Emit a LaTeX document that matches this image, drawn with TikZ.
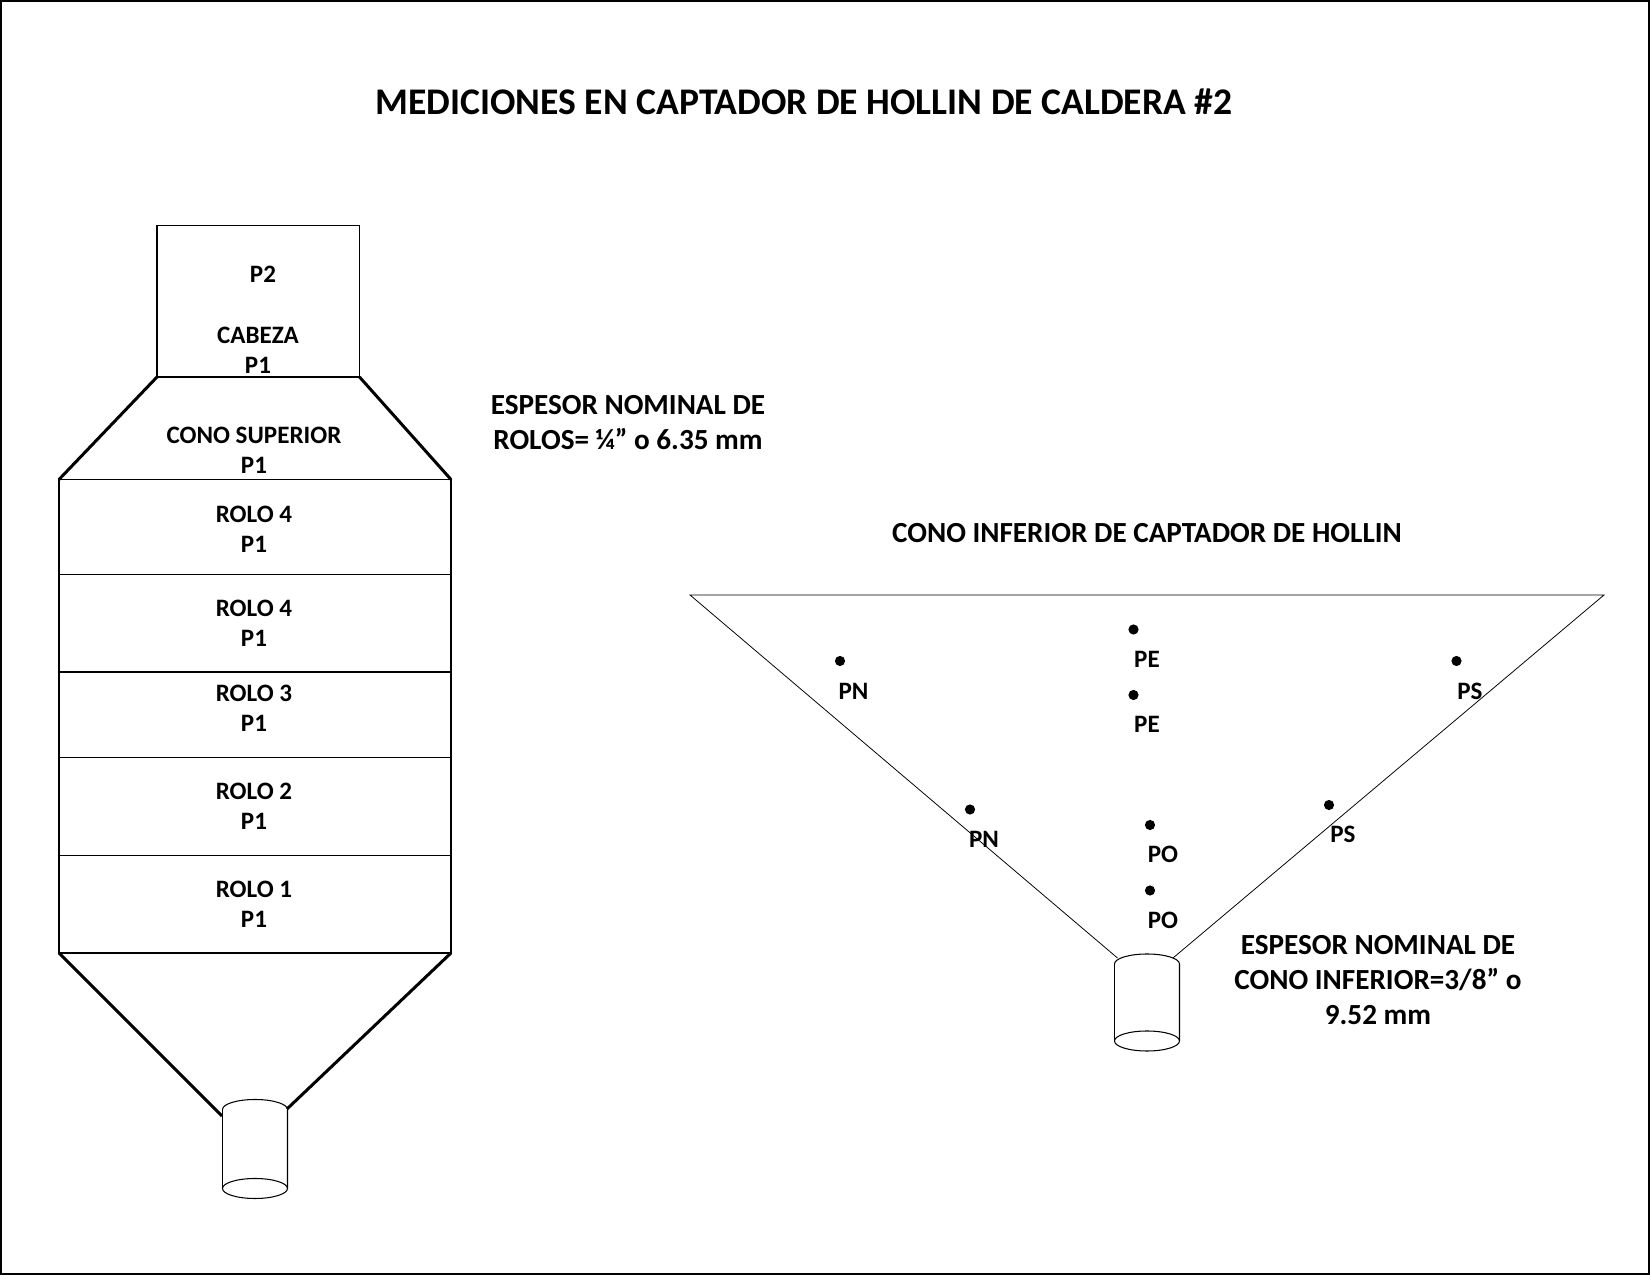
\documentclass[tikz,border=0pt]{standalone}
\usepackage{fontspec}
\setmainfont{Carlito}
\tikzset{
 rotulo/.style={font=\bfseries\fontsize{7.13}{8.65}\selectfont, align=center, inner sep=0pt},
 nota/.style={font=\bfseries\fontsize{8.3}{9.9}\selectfont, align=center, inner sep=0pt},
 punto/.style={circle, fill=black, inner sep=0pt, minimum size=2.9pt},
 linea/.style={line width=0.3pt},
 grueso/.style={line width=0.85pt},
 fino/.style={line width=0.22pt}
}
\begin{document}
\begin{tikzpicture}
 \useasboundingbox (0,0) rectangle (16.5,12.75);
 \draw[line width=0.6pt] (0.01,0.01) rectangle (16.49,12.74);
 \node[font=\bfseries\fontsize{10.7}{12}\selectfont, inner sep=0pt] (titulo) at (8.04,11.73) {MEDICIONES EN CAPTADOR DE HOLLIN DE CALDERA \#2};

 % captador
 \draw[linea] (1.57,8.98) rectangle (3.595,10.495);
 \draw[grueso] (1.57,8.98) -- (0.59,7.955);
 \draw[grueso] (3.595,8.98) -- (4.51,7.955);
 \draw[linea] (0.59,7.955) rectangle (4.51,3.22);
 \draw[linea] (0.59,7.005) -- (4.51,7.005);
 \draw[linea] (0.59,6.03) -- (4.51,6.03);
 \draw[linea] (0.59,5.175) -- (4.51,5.175);
 \draw[linea] (0.59,4.195) -- (4.51,4.195);
 \draw[grueso] (0.59,3.22) -- (2.22,1.59);
 \draw[grueso] (4.51,3.22) -- (2.87,1.66);

 % salida
 \draw[linea] (2.225,1.655) arc (180:0:0.325 and 0.10) -- (2.875,0.865);
 \draw[linea] (2.225,1.655) -- (2.225,0.865);
 \draw[linea] (2.55,0.865) ellipse (0.325 and 0.10);

 \node[rotulo] (pdos) at (2.63,10.01) {P2};
 \node[rotulo] (cabeza) at (2.58,9.25) {CABEZA\\P1};
 \node[rotulo] (superior) at (2.54,8.245) {CONO SUPERIOR\\P1};
 \node[rotulo] (rolocuatro) at (2.54,7.455) {ROLO 4\\P1};
 \node[rotulo] (rolotres) at (2.54,6.515) {ROLO 4\\P1};
 \node[rotulo] (rolodos) at (2.54,5.665) {ROLO 3\\P1};
 \node[rotulo] (rolouno) at (2.54,4.685) {ROLO 2\\P1};
 \node[rotulo] (rolocero) at (2.54,3.705) {ROLO 1\\P1};
 \node[nota] (espesor) at (6.28,8.525) {ESPESOR NOMINAL DE\\ROLOS= ¼” o 6.35 mm};

 % cono inferior
 \node[nota] (inferior) at (11.47,7.415) {CONO INFERIOR DE CAPTADOR DE HOLLIN};
 \draw[fino] (11.175,3.17) -- (6.90,6.80) -- (16.04,6.80) -- (11.73,3.17);
 \draw[linea] (11.145,3.11) arc (180:0:0.325 and 0.10) -- (11.795,2.34);
 \draw[linea] (11.145,3.11) -- (11.145,2.34);
 \draw[linea] (11.47,2.34) ellipse (0.325 and 0.10);
 \node[nota] (espesorcono) at (13.78,2.95) {ESPESOR NOMINAL DE\\CONO INFERIOR=3/8” o\\9.52 mm};

 \node[punto] (pna) at (8.40,6.14) {};
 \node[rotulo] (tpna) at (8.535,5.84) {PN};
 \node[punto] (pnb) at (9.70,4.655) {};
 \node[rotulo] (tpnb) at (9.84,4.355) {PN};
 \node[punto] (pea) at (11.335,6.455) {};
 \node[rotulo] (tpea) at (11.47,6.16) {PE};
 \node[punto] (peb) at (11.335,5.80) {};
 \node[rotulo] (tpeb) at (11.47,5.51) {PE};
 \node[punto] (psa) at (14.565,6.14) {};
 \node[rotulo] (tpsa) at (14.70,5.84) {PS};
 \node[punto] (psb) at (13.29,4.70) {};
 \node[rotulo] (tpsb) at (13.43,4.405) {PS};
 \node[punto] (poa) at (11.50,4.50) {};
 \node[rotulo] (tpoa) at (11.63,4.205) {PO};
 \node[punto] (pob) at (11.50,3.845) {};
 \node[rotulo] (tpob) at (11.63,3.545) {PO};
\end{tikzpicture}
\end{document}
